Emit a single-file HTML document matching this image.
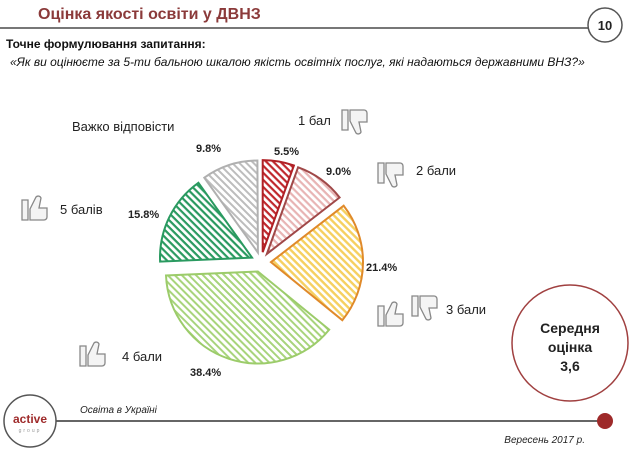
<!DOCTYPE html>
<html><head><meta charset="utf-8"><style>
body{margin:0;width:630px;height:454px;background:#fff;overflow:hidden;font-family:"Liberation Sans",sans-serif}
svg{position:absolute;left:0;top:0}
</style></head><body>
<svg width="630" height="454" viewBox="0 0 630 454" font-family="Liberation Sans, sans-serif">
<defs>
<pattern id="pr" width="5" height="5" patternUnits="userSpaceOnUse" patternTransform="rotate(45)"><rect width="5" height="5" fill="#fff"/><rect width="5" height="2.2" fill="#c0282d"/></pattern>
<pattern id="pp" width="5" height="5" patternUnits="userSpaceOnUse" patternTransform="rotate(45)"><rect width="5" height="5" fill="#fff"/><rect width="5" height="2.2" fill="#e8b4b4"/></pattern>
<pattern id="py" width="5" height="5" patternUnits="userSpaceOnUse" patternTransform="rotate(45)"><rect width="5" height="5" fill="#fff"/><rect width="5" height="2.4" fill="#f6d060"/></pattern>
<pattern id="pl" width="5" height="5" patternUnits="userSpaceOnUse" patternTransform="rotate(45)"><rect width="5" height="5" fill="#fff"/><rect width="5" height="2" fill="#a8d47c"/></pattern>
<pattern id="pd" width="5" height="5" patternUnits="userSpaceOnUse" patternTransform="rotate(45)"><rect width="5" height="5" fill="#fff"/><rect width="5" height="2.2" fill="#2a9a60"/></pattern>
<pattern id="pg" width="5" height="5" patternUnits="userSpaceOnUse" patternTransform="rotate(45)"><rect width="5" height="5" fill="#fff"/><rect width="5" height="2" fill="#bdbdbd"/></pattern>
</defs>
<text x="38" y="19" font-size="16" font-weight="bold" fill="#8b3a3a">Оцінка якості освіти у ДВНЗ</text>
<line x1="0" y1="28" x2="590" y2="28" stroke="#777" stroke-width="2"/>
<circle cx="605" cy="25" r="17" fill="#fff" stroke="#555" stroke-width="1.5"/>
<text x="605" y="30" font-size="13" font-weight="bold" text-anchor="middle" fill="#222">10</text>
<text x="6" y="48" font-size="12" font-weight="bold" fill="#111">Точне формулювання запитання:</text>
<text x="10" y="66" font-size="12" font-style="italic" fill="#111">«Як ви оцінюєте за 5-ти бальною шкалою якість освітніх послуг, які надаються державними ВНЗ?»</text>

<path d="M262.7,252.1 L262.7,160.1 A92,92 0 0 1 293.9,165.5 Z" fill="url(#pr)" stroke="#b02025" stroke-width="2"/>
<path d="M266.9,253.9 L298.1,167.3 A92,92 0 0 1 339.6,197.5 Z" fill="url(#pp)" stroke="#a04848" stroke-width="2"/>
<path d="M271,262.1 L343.7,205.7 A92,92 0 0 1 342.3,320.2 Z" fill="url(#py)" stroke="#e08a2a" stroke-width="2"/>
<path d="M257.9,271.5 L329.2,329.6 A92,92 0 0 1 166,275.5 Z" fill="url(#pl)" stroke="#9ccc6a" stroke-width="2"/>
<path d="M252,257.6 L160.1,261.6 A92,92 0 0 1 198.4,182.8 Z" fill="url(#pd)" stroke="#2a9a60" stroke-width="2"/>
<path d="M257.9,252.5 L204.3,177.7 A92,92 0 0 1 257.4,160.5 Z" fill="url(#pg)" stroke="#b0b0b0" stroke-width="2"/>

<g font-size="11" font-weight="bold" fill="#222">
<text x="196" y="152">9.8%</text>
<text x="274" y="155">5.5%</text>
<text x="326" y="175">9.0%</text>
<text x="366" y="271">21.4%</text>
<text x="190" y="376">38.4%</text>
<text x="128" y="218">15.8%</text>
</g>
<g font-size="13" fill="#222">
<text x="72" y="131">Важко відповісти</text>
<text x="298" y="125">1 бал</text>
<text x="416" y="175">2 бали</text>
<text x="446" y="314">3 бали</text>
<text x="122" y="361">4 бали</text>
<text x="60" y="214">5 балів</text>
</g>
<g fill="#f4f4f4" stroke="#888" stroke-width="1.3">
<path d="M342,110 h6 v20 h-6z M350,110 h14 a3,3 0 0 1 3,3 v9 h-8 l2,10 a3,3 0 0 1 -5,1 l-6,-12z"/>
<path d="M378,163 h6 v20 h-6z M386,163 h14 a3,3 0 0 1 3,3 v9 h-8 l2,10 a3,3 0 0 1 -5,1 l-6,-12z"/>
<path d="M412,296 h6 v20 h-6z M420,296 h14 a3,3 0 0 1 3,3 v9 h-8 l2,10 a3,3 0 0 1 -5,1 l-6,-12z"/>
<path d="M378,306 h6 v20 h-6z M386,326 h14 a3,3 0 0 0 3,-3 v-9 h-8 l2,-10 a3,3 0 0 0 -5,-1 l-6,12z"/>
<path d="M22,200 h6 v20 h-6z M30,220 h14 a3,3 0 0 0 3,-3 v-9 h-8 l2,-10 a3,3 0 0 0 -5,-1 l-6,12z"/>
<path d="M80,346 h6 v20 h-6z M88,366 h14 a3,3 0 0 0 3,-3 v-9 h-8 l2,-10 a3,3 0 0 0 -5,-1 l-6,12z"/>
</g>
<circle cx="570" cy="343" r="58" fill="#fff" stroke="#a04040" stroke-width="1.5"/>
<g font-size="14" font-weight="bold" fill="#222" text-anchor="middle">
<text x="570" y="333">Середня</text><text x="570" y="352">оцінка</text><text x="570" y="371">3,6</text></g>

<line x1="55" y1="421" x2="600" y2="421" stroke="#666" stroke-width="2"/>
<circle cx="605" cy="421" r="8" fill="#9e2a2a"/>
<circle cx="30" cy="421" r="26" fill="#fff" stroke="#555" stroke-width="1.5"/>
<text x="30" y="423" font-size="12" font-weight="bold" fill="#9e2a2a" text-anchor="middle">active</text>
<text x="30" y="432" font-size="5" fill="#999" text-anchor="middle" letter-spacing="2">group</text>
<text x="80" y="413" font-size="10" font-style="italic" fill="#222">Освіта в Україні</text>
<text x="585" y="443" font-size="10" font-style="italic" fill="#222" text-anchor="end">Вересень 2017 р.</text>
</svg>
</body></html>
